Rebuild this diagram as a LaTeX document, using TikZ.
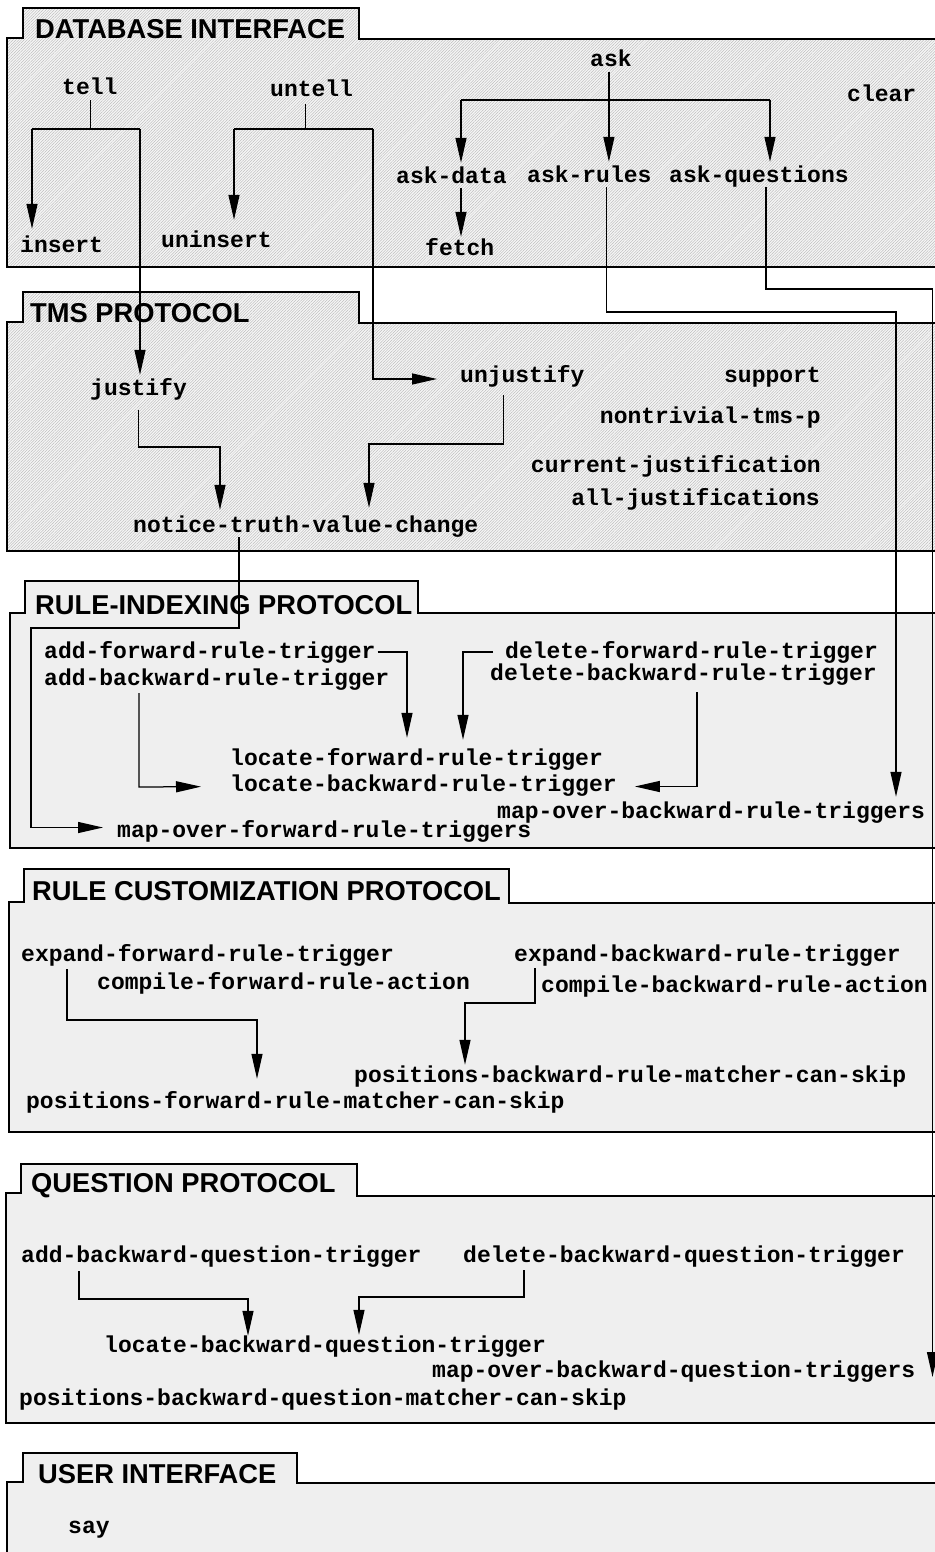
\documentclass[tikz,border=0pt]{standalone}
\usepackage{fontspec}
\newfontfamily\codefont{Liberation Mono}
\newfontfamily\headfont{Liberation Sans}
\usetikzlibrary{arrows.meta,patterns.meta}
\definecolor{panelgray}{HTML}{EFEFEF}
\newcommand{\dbpanel}[8]{\draw[panel,#8] (#1,#7) -- (#1,#2) -- (#3,#2) -- (#3,#4) -- (#5,#4) -- (#5,#6) -- (945,#6) -- (945,#7) -- cycle;}
\tikzset{
  panel/.style={draw=black, line width=1.8pt, line join=miter},
  hatched/.style={preaction={fill=gray!8}, preaction={pattern={Lines[angle=45,distance=2pt,line width=0.35pt]}, pattern color=gray!60}},
  plainfill/.style={fill=panelgray},
  code/.style={inner sep=0pt, text height=14pt, text depth=5pt, anchor=base west, font=\codefont\fontsize{23}{26}\selectfont\bfseries},
  codeR/.style={code, anchor=base east},
  head/.style={inner sep=0pt, anchor=base west, font=\headfont\fontsize{27.3}{30}\selectfont\bfseries},
  conn/.style={draw=black, line width=1.25pt},
  arr/.style={conn, -{Triangle[length=25pt,width=11pt]}},
}
\begin{document}
\begin{tikzpicture}[x=1pt,y=-1pt]
\fill[white] (0,0) rectangle (934,1552);
\useasboundingbox (0,0) rectangle (934,1552);

% panels
\dbpanel{7}{38}{23}{8}{359}{39}{267}{hatched}
\dbpanel{7}{322}{23}{292}{359}{323}{551}{hatched}
\dbpanel{10}{613}{25}{581}{418}{613}{848}{plainfill}
\dbpanel{9}{902}{24}{869}{509}{903}{1132}{plainfill}
\dbpanel{6}{1193}{21}{1164}{357}{1196}{1423}{plainfill}
\dbpanel{7}{1482}{23}{1453}{297}{1483}{1570}{plainfill}

% titles
\node[head] (t1) at (35,39) {DATABASE INTERFACE};
\node[head] (t2) at (30,322) {TMS PROTOCOL};
\node[head] (t3) at (35,614) {RULE-INDEXING PROTOCOL};
\node[head] (t4) at (32,900) {RULE CUSTOMIZATION PROTOCOL};
\node[head] (t5) at (31,1192) {QUESTION PROTOCOL};
\node[head] (t6) at (38,1483) {USER INTERFACE};

% database interface
\node[code] (tell) at (62,95) {tell};
\node[code] (untell) at (270,97) {untell};
\node[code] (ask) at (590,67) {ask};
\node[code] (clear) at (847,102) {clear};
\node[code] (insert) at (20,252) {insert};
\node[code] (uninsert) at (161,247) {uninsert};
\node[code] (askdata) at (396,183) {ask-data};
\node[code] (askrules) at (527,182) {ask-rules};
\node[code] (askq) at (669,182) {ask-questions};
\node[code] (fetch) at (425,255) {fetch};

% TMS
\node[code] (justify) at (90,395) {justify};
\node[code] (unjustify) at (460,382) {unjustify};
\node[codeR] (support) at (821,382) {support};
\node[codeR] (nontriv) at (821,423) {nontrivial-tms-p};
\node[codeR] (curjust) at (821,472) {current-justification};
\node[codeR] (alljust) at (820,505) {all-justifications};
\node[code] (notice) at (133,532) {notice-truth-value-change};

% rule indexing
\node[code] (addF) at (44,658) {add-forward-rule-trigger};
\node[code] (addB) at (44,685) {add-backward-rule-trigger};
\node[code] (delF) at (505,658) {delete-forward-rule-trigger};
\node[code] (delB) at (490,680) {delete-backward-rule-trigger};
\node[code] (locF) at (230,765) {locate-forward-rule-trigger};
\node[code] (locB) at (230,791) {locate-backward-rule-trigger};
\node[code] (mapB) at (497,818) {map-over-backward-rule-triggers};
\node[code] (mapF) at (117,837) {map-over-forward-rule-triggers};

% rule customization
\node[code] (expF) at (21,961) {expand-forward-rule-trigger};
\node[code] (compF) at (97,989) {compile-forward-rule-action};
\node[code] (expB) at (514,961) {expand-backward-rule-trigger};
\node[code] (compB) at (541,992) {compile-backward-rule-action};
\node[code] (posB) at (354,1082) {positions-backward-rule-matcher-can-skip};
\node[code] (posF) at (26,1108) {positions-forward-rule-matcher-can-skip};

% question protocol
\node[code] (addQ) at (21,1262) {add-backward-question-trigger};
\node[code] (delQ) at (463,1262) {delete-backward-question-trigger};
\node[code] (locQ) at (104,1352) {locate-backward-question-trigger};
\node[code] (mapQ) at (432,1377) {map-over-backward-question-triggers};
\node[code] (posQ) at (19,1405) {positions-backward-question-matcher-can-skip};

% user interface
\node[code] (say) at (68,1533) {say};

% ---------- connectors ----------
\coordinate (tellL) at (32,129);
\coordinate (tellR) at (140,129);
\draw[conn] ([xshift=1pt]tell.south) -- ([xshift=1pt]tell.south |- tellL);
\draw[conn] (tellL) -- (tellR);
\draw[arr, shorten >=9pt] (tellL) -- (tellL |- insert.north);
\draw[arr, shorten >=6pt] (tellR) -- (tellR |- justify.north);

\coordinate (untL) at (234,129);
\coordinate (untR) at (373,129);
\draw[conn] ([xshift=-6pt,yshift=-2pt]untell.south) -- ([xshift=-6pt]untell.south |- untL);
\draw[conn] (untL) -- (untR);
\draw[arr, shorten >=13pt] (untL) -- (untL |- uninsert.north);
\draw[arr, shorten >=23pt] (untR) |- ([yshift=-1.5pt]unjustify.west);

\coordinate (askL) at (461,100);
\coordinate (askR) at (770,100);
\draw[arr, shorten >=6pt] ([xshift=-2pt]ask.south) -- ([xshift=-2pt]ask.south |- askrules.north);
\draw[conn] (askL) -- (askR);
\draw[arr, shorten >=6pt] (askL) -- (askL |- askdata.north);
\draw[arr, shorten >=6pt] (askR) -- (askR |- askq.north);
\draw[arr, shorten >=4pt] (askL |- askdata.south) -- (askL |- fetch.north);

\coordinate (rightA) at (896,312);
\coordinate (rightQ) at (932.5,289);
\draw[arr, shorten >=7pt] ([xshift=17pt]askrules.south) |- (rightA) -- (rightA |- mapB.north);
\draw[arr] ([xshift=7pt]askq.south) |- (rightQ) -- (rightQ |- mapQ.base);

% TMS connectors
\coordinate (jn) at (220,447);
\draw[arr, shorten >=8pt] ([yshift=-10pt]justify.south) |- (jn) -- (jn |- notice.north);
\coordinate (un) at (369,444);
\draw[arr, shorten >=10pt] ([xshift=-19pt,yshift=-8pt]unjustify.south) |- (un) -- (un |- notice.north);

\coordinate (nJ) at (239,628);
\coordinate (nL) at (31,628);
\draw[arr, shorten >=14pt] (notice.south -| nJ) -- (nJ) -- (nL) |- ([yshift=5pt]mapF.west);

% rule-indexing connectors
\coordinate (aF) at (407,652);
\draw[arr, shorten <=2pt, shorten >=13pt] ([yshift=1.5pt]addF.east) -- (aF) -- (aF |- locF.north);
\coordinate (dF) at (463,652);
\draw[arr, shorten <=12pt, shorten >=11pt] ([yshift=1.5pt]delF.west) -- (dF) -- (dF |- locF.north);
\coordinate (aB) at (139,787);
\draw[arr, shorten >=29pt] ([yshift=-3pt]addB.south -| aB) -- (aB) -- (locB.west);
\draw[arr, shorten >=18pt] ([xshift=13.5pt,yshift=-7pt]delB.south) |- (locB.east);

% rule customization connectors
\coordinate (eF) at (67,1020);
\coordinate (eF2) at (257,1020);
\draw[arr, shorten >=15pt] ([yshift=-3pt]expF.south -| eF) -- (eF) -- (eF2) -- (eF2 |- posF.north);
\coordinate (eB) at (535,1003);
\coordinate (eB2) at (465,1003);
\draw[arr, shorten >=3pt] ([yshift=-2pt]expB.south -| eB) -- (eB) -- (eB2) -- (eB2 |- posB.north);

% question connectors
\coordinate (qA) at (79,1299);
\coordinate (qA2) at (248,1299);
\draw[arr, shorten >=2pt] ([yshift=-4pt]addQ.south -| qA) -- (qA) -- (qA2) -- (qA2 |- locQ.north);
\coordinate (qD) at (524,1297);
\coordinate (qD2) at (359,1297);
\draw[arr, shorten >=3pt] ([yshift=-3pt]delQ.south -| qD) -- (qD) -- (qD2) -- (qD2 |- locQ.north);
\end{tikzpicture}
\end{document}
